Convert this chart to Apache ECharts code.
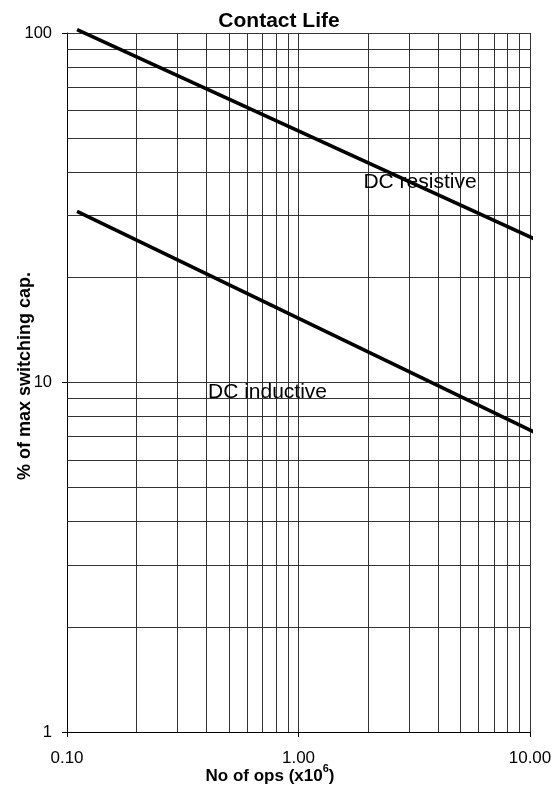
<!DOCTYPE html>
<html>
<head>
<meta charset="utf-8">
<script src="https://cdn.jsdelivr.net/npm/echarts@6/dist/echarts.min.js"></script>
<style>
html,body{margin:0;padding:0;background:#fff;}
#chart{width:558px;height:791px;}
</style>
</head>
<body>
<div id="chart"></div>
<script>
// ---- data ----
const opsX = [0.1105, 11.23];            // No of ops (x10^6)
const dcResistive = [102.3, 25.2];       // % of max switching cap.
const dcInductive = [30.9, 7.04];
const xMajorTicks = [0.1, 1, 10];
const yMajorTicks = [1, 10, 100];
const xGridValues = [0.2,0.3,0.4,0.5,0.6,0.7,0.8,0.9,1,2,3,4,5,6,7,8,9,10];
const yGridValues = [2,3,4,5,6,7,8,9,10,20,30,40,50,60,70,80,90,100];
const seriesLabels = ['DC resistive', 'DC inductive'];
const labelCoords = [[3.35, 37.5], [0.7346, 9.39]];

const FONT = '"Liberation Sans", Arial, sans-serif';
const gridColor = '#333';

function pairs(xs, ys){ return xs.map((x,i)=>[x, ys[i]]); }

const chart = echarts.init(document.getElementById('chart'), null, {renderer:'canvas'});
chart.setOption({
  animation: false,
  backgroundColor: '#fff',
  title: {
    text: 'Contact Life',
    left: 'center',
    top: 6,
    textStyle: {fontFamily: FONT, fontWeight: 'bold', fontSize: 21, color: '#000'}
  },
  grid: {left: 67, top: 33, right: 28, bottom: 59, containLabel: false},
  xAxis: {
    type: 'log', logBase: 10, min: 0.1, max: 10,
    axisLine: {show: true, lineStyle: {color: '#000', width: 1}},
    axisTick: {show: true, length: 5, lineStyle: {color: '#000'}},
    axisLabel: {
      margin: 18, fontFamily: FONT, fontSize: 17, color: '#000',
      formatter: v => Number(v).toFixed(2)
    },
    splitLine: {show: false}
  },
  yAxis: {
    type: 'log', logBase: 10, min: 1, max: 100,
    axisLine: {show: true, lineStyle: {color: '#000', width: 1}},
    axisTick: {show: true, length: 5, lineStyle: {color: '#000'}},
    axisLabel: {margin: 15, fontFamily: FONT, fontSize: 16.5, color: '#000',
      formatter: v => String(Math.round(v))},
    splitLine: {show: false}
  },
  graphic: [
    {
      type: 'text', x: 25, y: 376, rotation: Math.PI/2,
      style: {text: '% of max switching cap.', font: 'bold 18px ' + FONT,
        fill: '#000', textAlign: 'center', textVerticalAlign: 'middle'}
    },
    {
      type: 'text', x: 270, y: 774,
      style: {
        text: '{a|No of ops (x10}{s|6}{a|)}',
        textAlign: 'center', textVerticalAlign: 'middle',
        rich: {
          a: {fontFamily: FONT, fontWeight: 'bold', fontSize: 17, fill: '#000', color: '#000', lineHeight: 22, verticalAlign: 'bottom'},
          s: {fontFamily: FONT, fontWeight: 'bold', fontSize: 11, fill: '#000', color: '#000', verticalAlign: 'top', lineHeight: 10}
        }
      }
    }
  ],
  series: [
    {
      name: 'grid', type: 'line', data: [], z: 1, silent: true,
      markLine: {
        silent: true, symbol: ['none','none'], animation: false,
        label: {show: false},
        lineStyle: {color: gridColor, width: 1, type: 'solid'},
        emphasis: {disabled: true},
        data: xGridValues.map(v => ({xAxis: v})).concat(yGridValues.map(v => ({yAxis: v})))
      }
    },
    {
      name: seriesLabels[0], type: 'line', data: pairs(opsX, dcResistive), z: 5,
      clip: false, showSymbol: false, symbol: 'none',
      lineStyle: {color: '#000', width: 3.6},
      markPoint: {
        symbol: 'circle', symbolSize: 1, itemStyle: {color: 'rgba(0,0,0,0)'},
        label: {show: true, position: 'inside', formatter: seriesLabels[0],
          fontFamily: FONT, fontSize: 21, color: '#000'},
        data: [{coord: labelCoords[0]}]
      }
    },
    {
      name: seriesLabels[1], type: 'line', data: pairs(opsX, dcInductive), z: 5,
      clip: false, showSymbol: false, symbol: 'none',
      lineStyle: {color: '#000', width: 3.6},
      markPoint: {
        symbol: 'circle', symbolSize: 1, itemStyle: {color: 'rgba(0,0,0,0)'},
        label: {show: true, position: 'inside', formatter: seriesLabels[1],
          fontFamily: FONT, fontSize: 21, color: '#000'},
        data: [{coord: labelCoords[1]}]
      }
    }
  ]
});
</script>
</body>
</html>
